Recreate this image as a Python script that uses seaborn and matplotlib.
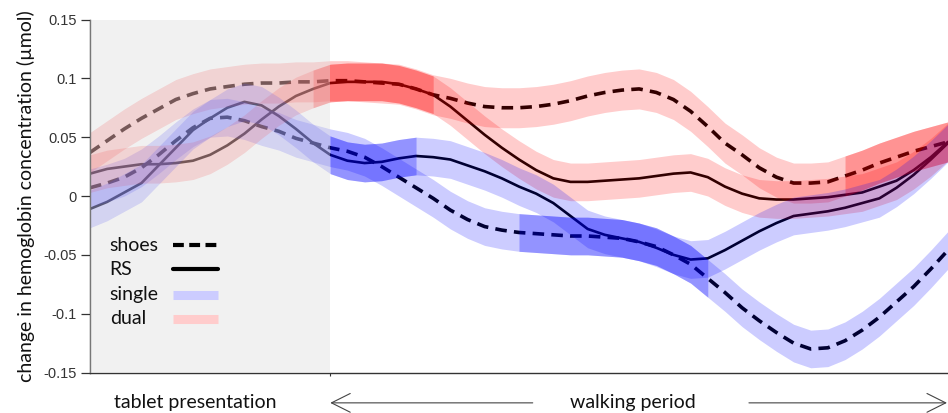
import numpy as np
import pandas as pd
import seaborn as sns
import matplotlib
matplotlib.use("Agg")
import matplotlib.pyplot as plt

# time axis (s): tablet presentation 0-7 s, walking period 7-25 s
time_s = np.arange(0, 25.01, 0.5)

shoes_dual = [0.037, 0.047, 0.057, 0.066, 0.074, 0.082, 0.087, 0.091, 0.093, 0.095,
              0.096, 0.096, 0.097, 0.097, 0.098, 0.098, 0.097, 0.096, 0.095, 0.091,
              0.086, 0.083, 0.079, 0.076, 0.075, 0.075, 0.076, 0.078, 0.081, 0.085,
              0.088, 0.090, 0.091, 0.088, 0.082, 0.072, 0.059, 0.045, 0.035, 0.024,
              0.016, 0.011, 0.011, 0.012, 0.017, 0.022, 0.028, 0.033, 0.038, 0.042,
              0.046]
shoes_single = [0.007, 0.011, 0.016, 0.024, 0.035, 0.047, 0.058, 0.066, 0.067, 0.064,
                0.059, 0.055, 0.049, 0.045, 0.041, 0.038, 0.033, 0.025, 0.016, 0.007,
                -0.002, -0.012, -0.020, -0.026, -0.029, -0.031, -0.032, -0.033, -0.034, -0.034,
                -0.035, -0.036, -0.039, -0.043, -0.050, -0.058, -0.070, -0.082, -0.095, -0.106,
                -0.116, -0.125, -0.130, -0.129, -0.123, -0.114, -0.103, -0.090, -0.077, -0.062,
                -0.046]
rs_dual = [0.019, 0.023, 0.025, 0.027, 0.027, 0.028, 0.030, 0.035, 0.043, 0.053,
           0.065, 0.076, 0.085, 0.091, 0.096, 0.097, 0.097, 0.097, 0.095, 0.091,
           0.086, 0.076, 0.064, 0.052, 0.041, 0.031, 0.022, 0.015, 0.012, 0.012,
           0.013, 0.014, 0.015, 0.017, 0.019, 0.020, 0.016, 0.008, 0.002, -0.002,
           -0.003, -0.003, -0.002, -0.001, 0.001, 0.003, 0.008, 0.013, 0.022, 0.033,
           0.046]
rs_single = [-0.011, -0.005, 0.003, 0.011, 0.026, 0.041, 0.056, 0.066, 0.075, 0.080,
             0.077, 0.068, 0.057, 0.045, 0.035, 0.030, 0.028, 0.029, 0.032, 0.034,
             0.033, 0.031, 0.026, 0.021, 0.015, 0.008, 0.002, -0.006, -0.017, -0.028,
             -0.033, -0.036, -0.039, -0.044, -0.050, -0.054, -0.053, -0.046, -0.038, -0.030,
             -0.023, -0.017, -0.015, -0.013, -0.010, -0.006, -0.002, 0.007, 0.018, 0.031,
             0.045]

# half-width of the error band for each condition
band_shoes_dual = 0.017
band_shoes_single = 0.016
band_rs_dual = 0.016
band_rs_single = 0.016

# time windows with significant differences (drawn with a stronger band)
sig_shoes_dual = [(22.0, 25.0)]
sig_shoes_single = [(12.5, 18.0)]
sig_rs_dual = [(6.5, 10.0)]
sig_rs_single = [(7.0, 9.5)]

legend_labels = ["shoes", "RS", "single", "dual"]

RED = "#ff0000"
BLUE = "#0000ff"
DASH = (0, (3.2, 2.0))

sns.set_theme(style="white")
plt.rcParams["font.family"] = ["Lato", "DejaVu Sans"]

fig = plt.figure(figsize=(9.48, 4.13), dpi=100)
ax = fig.add_axes([90 / 948, 1 - 372.5 / 413, 858 / 948, 353 / 413])

curves = [
    (shoes_dual, band_shoes_dual, sig_shoes_dual, RED, DASH),
    (shoes_single, band_shoes_single, sig_shoes_single, BLUE, DASH),
    (rs_dual, band_rs_dual, sig_rs_dual, RED, "-"),
    (rs_single, band_rs_single, sig_rs_single, BLUE, "-"),
]

for values, hw, sig, col, ls in curves:
    y = np.asarray(values)
    df = pd.DataFrame({"t": time_s, "v": y})
    lw = 2.6 if ls != "-" else 1.9
    sns.lineplot(data=df, x="t", y="v", ax=ax, color="black", lw=lw,
                 linestyle=ls, estimator=None, sort=False, zorder=1)
    ax.fill_between(time_s, y - hw, y + hw, color=col, alpha=0.2, lw=0, zorder=2)
    for a, b in sig:
        m = (time_s >= a) & (time_s <= b)
        ax.fill_between(time_s[m], y[m] - hw, y[m] + hw, color=col, alpha=0.28,
                        lw=0, zorder=2)

# tablet presentation period, shaded over the curves
ax.axvspan(0, 7, color="#dedede", alpha=0.4, lw=0, zorder=3)

ax.set_xlim(0, 25)
ax.set_ylim(-0.15, 0.15)
ax.set_yticks([-0.15, -0.1, -0.05, 0, 0.05, 0.1, 0.15])
ax.set_yticklabels(["-0.15", "-0.1", "-0.05", "0", "0.05", "0.1", "0.15"],
                   family=["Liberation Sans Narrow", "Liberation Sans"], fontsize=10.5,
                   color="#333333")
ax.set_xticks([7])
ax.set_xticklabels([""])
ax.tick_params(axis="y", direction="out", length=6.5, width=0.9, color="#333333",
               pad=3, left=True)
ax.tick_params(axis="x", direction="out", length=2.5, width=0.8, color="#333333",
               bottom=True)
for s in ["top", "right"]:
    ax.spines[s].set_visible(False)
for s in ["left", "bottom"]:
    ax.spines[s].set_color("#333333")
    ax.spines[s].set_linewidth(1.0)
ax.set_xlabel("")
ax.set_ylabel("change in hemoglobin concentration (µmol)", fontsize=14, color="#111111")
ax.yaxis.set_label_coords(-0.064, 0.5)

# legend: labels on the left, line samples on the right
legend_rows_y = [0.361, 0.293, 0.220, 0.152]
legend_styles = [
    dict(color="black", lw=3.0, linestyle=(0, (2.6, 1.3))),
    dict(color="black", lw=3.0, linestyle="-"),
    dict(color="#ccccff", lw=6.5, linestyle="-", solid_capstyle="butt"),
    dict(color="#ffcccc", lw=6.5, linestyle="-", solid_capstyle="butt"),
]
for label, yy, st in zip(legend_labels, legend_rows_y, legend_styles):
    ax.text(0.023, yy, label, transform=ax.transAxes, ha="left", va="center",
            fontsize=14, color="#111111", zorder=6)
    ax.plot([0.0965, 0.149], [yy, yy], transform=ax.transAxes, zorder=6,
            dash_capstyle="butt", **st)

# period annotations under the axis
trans = ax.get_xaxis_transform()
ax.text(3.06, -0.086, "tablet presentation", transform=trans, ha="center", va="center",
        fontsize=14, color="#111111")
ax.text(15.83, -0.086, "walking period", transform=trans, ha="center", va="center",
        fontsize=14, color="#111111")
arrow_kw = dict(arrowstyle="->,head_length=0.9,head_width=0.45", color="#444444",
                lw=0.8, mutation_scale=15, shrinkA=0, shrinkB=0)
ax.annotate("", xy=(7.0, -0.086), xytext=(12.9, -0.086), xycoords=trans,
            textcoords=trans, arrowprops=arrow_kw, annotation_clip=False)
ax.annotate("", xy=(24.97, -0.086), xytext=(19.2, -0.086), xycoords=trans,
            textcoords=trans, arrowprops=arrow_kw, annotation_clip=False)

fig.savefig("out.png", dpi=100)
